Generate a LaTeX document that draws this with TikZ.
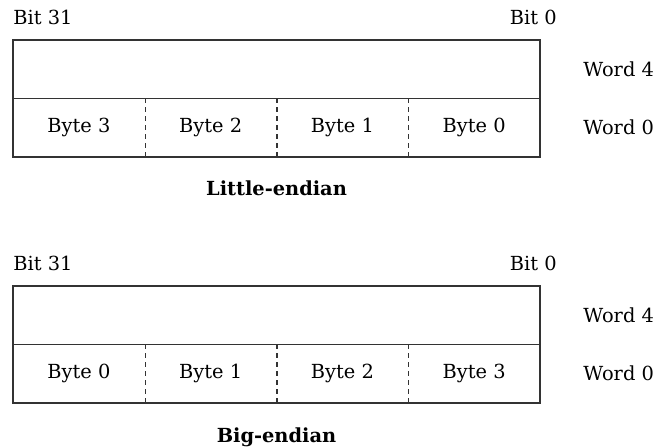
\documentclass[tikz,border=0pt]{standalone}
\usepackage{fontspec}
\setmainfont{DejaVu Serif}
\usepackage{tikz}
\usetikzlibrary{positioning}

\begin{document}
\begin{tikzpicture}[
  x=0.5pt, y=-0.5pt,
  wordbox/.style={draw=black!80, line width=0.6pt, minimum width=263.5pt, minimum height=29.25pt, inner sep=0pt},
  bytecell/.style={minimum width=65.875pt, minimum height=29.25pt, inner sep=0pt, font=\fontsize{9.7}{11}\selectfont},
  divider/.style={draw=black!80, line width=0.6pt, dash pattern=on 2.5pt off 2pt},
  lab/.style={inner sep=0pt, font=\fontsize{9.7}{11}\selectfont},
  title/.style={inner sep=0pt, font=\fontsize{9.7}{11}\selectfont\bfseries}
]
\useasboundingbox (0,0) rectangle (659,448);

% little-endian
\node[lab, anchor=base west] (lbit31) at (13,25) {Bit 31};
\node[lab, anchor=base east] (lbit0) at (557,25) {Bit 0};
\node[wordbox] (lw4) at (276.5,69.25) {};
\node[wordbox] (lw0) at (276.5,127.75) {};
\node[lab, anchor=west] (lw4lab) at (583,69.25) {Word 4};
\node[lab, anchor=west] (lw0lab) at (583,127.75) {Word 0};
\foreach \i/\n in {1/3,2/2,3/1,4/0}
  \node[bytecell] (lb\i) at ({13+131.75*(\i-0.5)},127.75) {Byte \n};
\foreach \i in {1,2,3}
  \draw[divider] (lb\i.north east) -- (lb\i.south east);
\node[title, anchor=base] (ltitle) at (276.5,196) {Little-endian};

% big-endian
\node[lab, anchor=base west] (bbit31) at (13,271) {Bit 31};
\node[lab, anchor=base east] (bbit0) at (557,271) {Bit 0};
\node[wordbox] (bw4) at (276.5,315.25) {};
\node[wordbox] (bw0) at (276.5,373.75) {};
\node[lab, anchor=west] (bw4lab) at (583,315.25) {Word 4};
\node[lab, anchor=west] (bw0lab) at (583,373.75) {Word 0};
\foreach \i/\n in {1/0,2/1,3/2,4/3}
  \node[bytecell] (bb\i) at ({13+131.75*(\i-0.5)},373.75) {Byte \n};
\foreach \i in {1,2,3}
  \draw[divider] (bb\i.north east) -- (bb\i.south east);
\node[title, anchor=base] (btitle) at (276.5,443) {Big-endian};
\end{tikzpicture}
\end{document}
